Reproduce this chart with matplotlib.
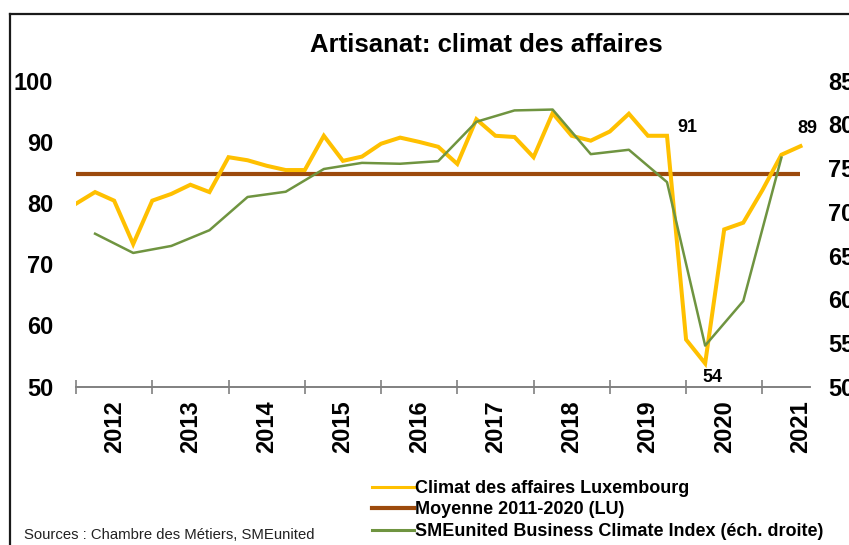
import numpy as np
import matplotlib
matplotlib.use("Agg")
import matplotlib.pyplot as plt
from matplotlib.lines import Line2D

plt.rcParams['font.family'] = ['Liberation Sans', 'DejaVu Sans']

# quarterly data, Q1 2012 .. Q3 2021
climat_lu = [79.9, 81.8, 80.4, 73.3, 80.4, 81.5, 83.0, 81.8, 87.5, 87.0,
             86.1, 85.4, 85.4, 91.0, 86.9, 87.6, 89.7, 90.7, 90.0, 89.2,
             86.4, 93.7, 91.0, 90.8, 87.5, 94.7, 91.0, 90.2, 91.7, 94.6,
             91.0, 91.0, 57.7, 53.8, 75.7, 76.8, 82.1, 87.9, 89.3]
moyenne_lu = 84.8
# SMEunited index, semi-annual (right scale)
sme_index = [np.nan, 67.5, np.nan, 65.3, np.nan, 66.1, np.nan, 67.9, np.nan, 71.7,
             np.nan, 72.3, np.nan, 74.9, np.nan, 75.6, np.nan, 75.5, np.nan, 75.8,
             np.nan, 80.3, np.nan, 81.6, np.nan, 81.7, np.nan, 76.6, np.nan, 77.1,
             np.nan, 73.4, np.nan, 54.7, np.nan, 59.8, np.nan, 76.2, np.nan]
years = ['2012', '2013', '2014', '2015', '2016', '2017', '2018', '2019', '2020', '2021']
labels_pts = {31: '91', 33: '54', 38: '89'}

yellow = '#FFC000'
brown = '#9C4A0C'
green = '#6F9440'
grey = '#808080'

fig = plt.figure(figsize=(8.49, 5.45), dpi=100)
W, H = 849, 545
ax = fig.add_axes([76 / W, 1 - 386.7 / H, (810 - 76) / W, (386.7 - 80.7) / H])

x = np.arange(len(climat_lu))
ax.plot(x, [moyenne_lu] * len(x), color=brown, lw=3.0, solid_capstyle='butt')
ax.plot(x, climat_lu, color=yellow, lw=2.9, solid_joinstyle='miter')
ax.set_xlim(0, 38.5)
ax.set_ylim(50, 100)
ax.set_yticks([50, 60, 70, 80, 90, 100])

ax2 = ax.twinx()
sme = np.array(sme_index)
ok = ~np.isnan(sme)
ax2.plot(x[ok], sme[ok], color=green, lw=1.8)
ax2.set_ylim(50, 85)
ax2.set_yticks(range(50, 90, 5))

for a in (ax, ax2):
    for s in ('top', 'left', 'right'):
        a.spines[s].set_visible(False)
    a.spines['bottom'].set_color(grey)
    a.spines['bottom'].set_linewidth(1.2)

ax.tick_params(axis='y', length=0, pad=16.5, labelsize=17)
ax2.tick_params(axis='y', length=0, pad=13, labelsize=17)
for t in ax.get_yticklabels() + ax2.get_yticklabels():
    t.set_fontweight('bold')

ax.set_xticks(np.arange(0, 40, 4))
ax.set_xticks(np.arange(2, 40, 4), minor=True)
ax.set_xticklabels([''] * 10)
ax.set_xticklabels(years, minor=True, rotation=90, fontsize=17, fontweight='bold')
ax.tick_params(axis='x', which='major', direction='inout', length=10, width=1.2, color=grey)
ax.tick_params(axis='x', which='minor', length=0, pad=10)

offsets = {31: (20, 8), 33: (7, -14), 38: (7, 18)}
for i, txt in labels_pts.items():
    ax.annotate(txt, (i, climat_lu[i]), xytext=offsets[i], textcoords='offset pixels',
                ha='center', va='center', fontsize=13, fontweight='bold')

fig.text(486 / W, 1 - 45 / H, 'Artisanat: climat des affaires', ha='center', va='center',
         fontsize=18.5, fontweight='bold')

handles = [Line2D([], [], color=yellow, lw=2.2),
           Line2D([], [], color=brown, lw=3.0),
           Line2D([], [], color=green, lw=2.2)]
names = ['Climat des affaires Luxembourg', 'Moyenne 2011-2020 (LU)',
         'SMEunited Business Climate Index (éch. droite)']
leg = fig.legend(handles, names, loc='center left', bbox_to_anchor=(372 / W, 1 - 510 / H),
                 frameon=False, borderpad=0, borderaxespad=0, handlelength=2.3,
                 handletextpad=0.1, labelspacing=0.25, prop={'size': 13, 'weight': 'bold'})

fig.text(24 / W, 1 - 535 / H, 'Sources : Chambre des Métiers, SMEunited', ha='left', va='center',
         fontsize=10.7, color='#222222')

# outer frame of the original chart
fig.add_artist(Line2D([10 / W, 10 / W], [0, 1 - 14 / H], color='#1a1a1a', lw=1.6))
fig.add_artist(Line2D([10 / W, 1], [1 - 14 / H, 1 - 14 / H], color='#1a1a1a', lw=1.6))

fig.savefig('out.png', dpi=100)
